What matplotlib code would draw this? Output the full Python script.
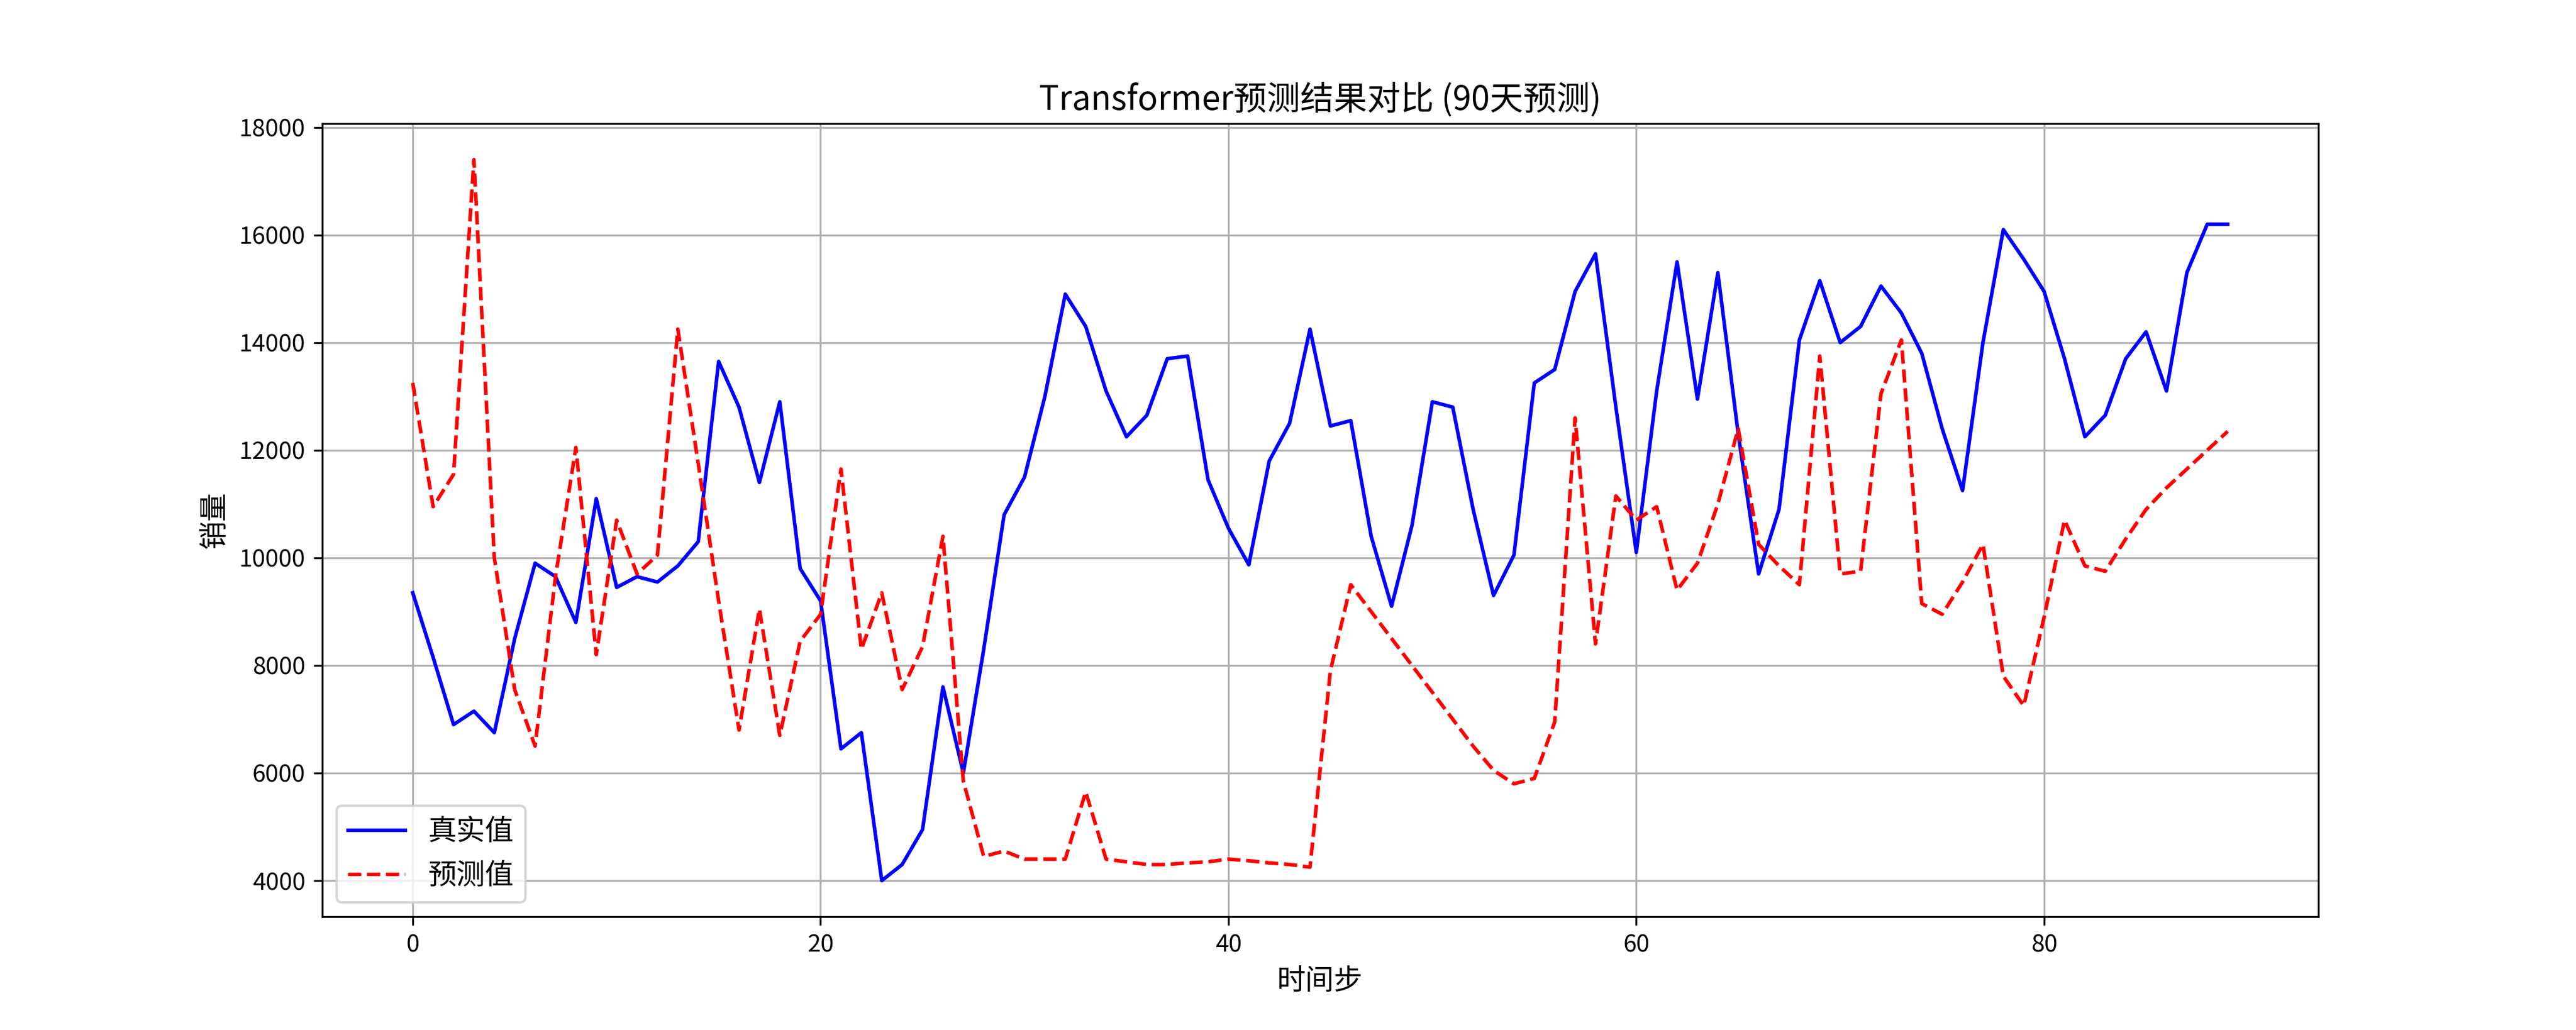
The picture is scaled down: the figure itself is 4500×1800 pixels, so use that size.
import matplotlib
matplotlib.use("Agg")
import matplotlib.pyplot as plt
import numpy as np

plt.rcParams['font.family'] = ['Noto Sans CJK SC', 'DejaVu Sans']
plt.rcParams['axes.unicode_minus'] = False

actual = [9350, 8150, 6900, 7150, 6750, 8500, 9900, 9650, 8800, 11100,
          9450, 9650, 9550, 9850, 10300, 13650, 12800, 11400, 12900, 9800,
          9200, 6450, 6750, 4000, 4300, 4950, 7600, 6000, 8300, 10800,
          11500, 13000, 14900, 14300, 13100, 12250, 12650, 13700, 13750, 11450,
          10550, 9870, 11800, 12500, 14250, 12450, 12550, 10400, 9100, 10600,
          12900, 12800, 10900, 9300, 10050, 13250, 13500, 14950, 15650, 12800,
          10100, 13100, 15500, 12950, 15300, 12300, 9700, 10900, 14050, 15150,
          14000, 14300, 15050, 14550, 13800, 12400, 11250, 14000, 16100, 15550,
          14950, 13700, 12250, 12650, 13700, 14200, 13100, 15300, 16200, 16200]

predicted = [13250, 10950, 11550, 17400, 10000, 7550, 6500, 9650, 12050, 8200,
             10700, 9700, 10050, 14250, 11750, 9200, 6800, 9050, 6700, 8450,
             8950, 11650, 8300, 9350, 7550, 8350, 10400, 5850, 4450, 4550,
             4400, 4400, 4400, 5650, 4400, 4350, 4300, 4300, 4330, 4350,
             4400, 4370, 4330, 4300, 4250, 7900, 9500, 9000, 8500, 8000,
             7500, 7000, 6500, 6050, 5800, 5900, 6950, 12600, 8400, 11150,
             10700, 10950, 9400, 9900, 11000, 12400, 10250, 9850, 9500, 13750,
             9700, 9750, 13050, 14050, 9150, 8950, 9550, 10250, 7800, 7250,
             8900, 10700, 9850, 9750, 10350, 10900, 11300, 11650, 12000, 12350]


def main():
    steps = np.arange(len(actual))
    fig, ax = plt.subplots(figsize=(15, 6), dpi=300)
    ax.plot(steps, actual, color="blue", label="真实值")
    ax.plot(steps, predicted, color="red", linestyle="--", label="预测值")
    ax.set_title("Transformer预测结果对比 (90天预测)", fontsize=14)
    ax.set_xlabel("时间步", fontsize=12)
    ax.set_ylabel("销量", fontsize=12)
    ax.legend(loc="lower left", fontsize=12)
    ax.grid(True)
    fig.savefig("out.png")
    plt.close(fig)


if __name__ == "__main__":
    main()
